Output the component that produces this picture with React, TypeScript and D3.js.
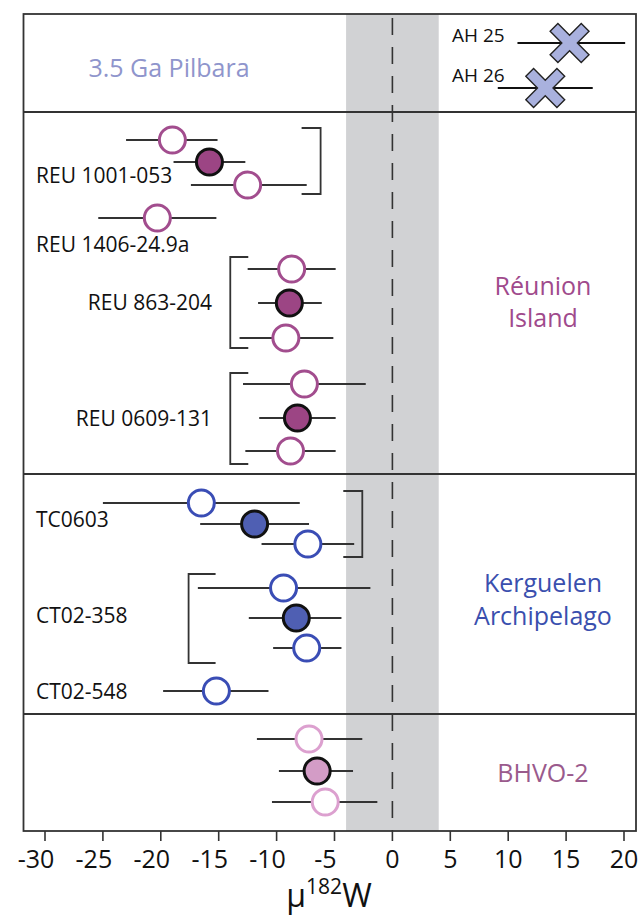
import React from 'react';
import * as d3 from 'd3';

// mu182W values (central value, lower and upper end of the error bar)
// row = vertical slot (1 slot = 10px from the top of the frame)
const pilbaraNames = ['AH 25', 'AH 26'];
const pilbaraMean = [15.3, 13.2];
const pilbaraLow = [10.8, 9.1];
const pilbaraHigh = [20.1, 17.3];
const pilbaraRow = [2.9, 7.4];

const reunionMean = [-19.0, -15.8, -12.5, -20.3, -8.7, -8.9, -9.2, -7.6, -8.2, -8.8];
const reunionLow = [-23.0, -18.9, -17.4, -25.4, -12.5, -11.6, -13.2, -12.9, -11.5, -12.7];
const reunionHigh = [-15.1, -12.7, -7.4, -15.2, -4.9, -6.1, -5.1, -2.3, -4.9, -4.9];
const reunionRow = [12.6, 14.8, 17.1, 20.4, 25.5, 28.9, 32.4, 37.0, 40.4, 43.7];
const reunionFilled = [false, true, false, false, false, true, false, false, true, false];

const kerguelenMean = [-16.5, -11.9, -7.3, -9.4, -8.3, -7.4, -15.2];
const kerguelenLow = [-25.0, -16.6, -11.3, -16.8, -12.4, -10.3, -19.8];
const kerguelenHigh = [-8.0, -7.2, -3.3, -1.9, -4.4, -4.4, -10.7];
const kerguelenRow = [48.9, 51.0, 53.0, 57.4, 60.4, 63.4, 67.7];
const kerguelenFilled = [false, true, false, false, true, false, false];

const bhvoMean = [-7.2, -6.5, -5.8];
const bhvoLow = [-11.7, -9.8, -10.4];
const bhvoHigh = [-2.6, -3.4, -1.3];
const bhvoRow = [72.5, 75.7, 78.8];
const bhvoFilled = [false, true, false];

// sample labels
const sampleNames = ['REU 1001-053', 'REU 1406-24.9a', 'REU 863-204', 'REU 0609-131', 'TC0603', 'CT02-358', 'CT02-548'];
const sampleRow = [16.9, 23.8, 29.6, 41.2, 51.3, 60.9, 68.5];
const sampleRightAligned = [false, false, true, true, false, false, false];

// brackets grouping replicate analyses
const bracketX = [-6.2, -14.0, -14.0, -2.6, -17.6];
const bracketTop = [11.4, 24.3, 35.9, 47.7, 56.0];
const bracketBottom = [18.0, 33.4, 45.0, 54.3, 64.9];
const bracketArm = [-19, 18, 18, -19, 27];

const panelDividers = [9.8, 46.0, 70.0];
const xTicks = [-30, -25, -20, -15, -10, -5, 0, 5, 10, 15, 20];
const bandHalfWidth = 4;

const FONT = '"Open Sans", sans-serif';
const LINE = '#333';

const width = 642;
const height = 917;
const frameLeft = 23.5;
const frameRight = 636;
const frameTop = 14;
const frameBottom = 831;

const x = d3.scaleLinear().domain([-30, 20]).range([45, 624]);
const y = d3.scaleLinear().domain([0, 81.7]).range([frameTop, frameBottom]);

const crossPath = (() => {
  const a = 22;
  const w = 5.5;
  const pts: [number, number][] = [
    [-w, -a], [w, -a], [w, -w], [a, -w], [a, w], [w, w],
    [w, a], [-w, a], [-w, w], [-a, w], [-a, -w], [-w, -w],
  ];
  const c = Math.SQRT1_2;
  const rot = pts.map(([px, py]) => [(px - py) * c, (px + py) * c]);
  return 'M' + rot.map((p) => p.join(',')).join('L') + 'Z';
})();

type SeriesProps = {
  mean: number[];
  low: number[];
  high: number[];
  row: number[];
  filled: boolean[];
  stroke: string;
  fill: string;
};

const Series = ({ mean, low, high, row, filled, stroke, fill }: SeriesProps) => (
  <g>
    {mean.map((m, i) => (
      <g key={i}>
        <line x1={x(low[i])} x2={x(high[i])} y1={y(row[i])} y2={y(row[i])} stroke={LINE} strokeWidth={1.8} />
        <circle
          cx={x(m)}
          cy={y(row[i])}
          r={13}
          fill={filled[i] ? fill : '#fff'}
          stroke={filled[i] ? '#111' : stroke}
          strokeWidth={3}
        />
      </g>
    ))}
  </g>
);

export default function App() {
  return (
    <svg
      width={width}
      height={height}
      style={{ position: 'absolute', left: 0, top: 0, background: '#fff' }}
      fontFamily={FONT}
    >
      {/* zero band and dashed zero line */}
      <rect
        x={x(-bandHalfWidth)}
        y={frameTop}
        width={x(bandHalfWidth) - x(-bandHalfWidth)}
        height={frameBottom - frameTop}
        fill="#d1d2d4"
      />
      <line x1={x(0)} x2={x(0)} y1={frameTop + 4} y2={frameBottom} stroke={LINE} strokeWidth={1.6} strokeDasharray="17,12" />

      {/* frame and panel dividers */}
      <rect x={frameLeft} y={frameTop} width={frameRight - frameLeft} height={frameBottom - frameTop} fill="none" stroke={LINE} strokeWidth={1.8} />
      {panelDividers.map((d) => (
        <line key={d} x1={frameLeft} x2={frameRight} y1={y(d)} y2={y(d)} stroke={LINE} strokeWidth={1.8} />
      ))}

      {/* panel titles */}
      <text x={169} y={77} textAnchor="middle" fontSize={25} fill="#8f95cc">3.5 Ga Pilbara</text>
      <text x={543} y={295} textAnchor="middle" fontSize={25} fill="#a04a8c">Réunion</text>
      <text x={543} y={327} textAnchor="middle" fontSize={25} fill="#a04a8c">Island</text>
      <text x={543} y={592} textAnchor="middle" fontSize={25} fill="#3a4fae">Kerguelen</text>
      <text x={543} y={625} textAnchor="middle" fontSize={25} fill="#3a4fae">Archipelago</text>
      <text x={543} y={782} textAnchor="middle" fontSize={25} fill="#9a5a8c">BHVO-2</text>

      {/* brackets */}
      {bracketX.map((bx, i) => (
        <path
          key={i}
          d={`M${x(bx) + bracketArm[i]},${y(bracketTop[i])}H${x(bx)}V${y(bracketBottom[i])}H${x(bx) + bracketArm[i]}`}
          fill="none"
          stroke={LINE}
          strokeWidth={1.8}
        />
      ))}

      {/* sample labels */}
      {sampleNames.map((n, i) => (
        <text
          key={n}
          x={sampleRightAligned[i] ? 212 : 36}
          y={y(sampleRow[i])}
          textAnchor={sampleRightAligned[i] ? 'end' : 'start'}
          fontSize={21}
          fill="#111"
        >
          {n}
        </text>
      ))}

      {/* Pilbara */}
      {pilbaraMean.map((m, i) => (
        <g key={i}>
          <text x={452} y={y(pilbaraRow[i]) - (i === 0 ? 1 : 6)} fontSize={19} fill="#111">{pilbaraNames[i]}</text>
          <line x1={x(pilbaraLow[i])} x2={x(pilbaraHigh[i])} y1={y(pilbaraRow[i])} y2={y(pilbaraRow[i])} stroke="#111" strokeWidth={1.8} />
          <path d={crossPath} transform={`translate(${x(m)},${y(pilbaraRow[i])})`} fill="#a9b1de" stroke="#222" strokeWidth={1.4} />
        </g>
      ))}

      <Series mean={reunionMean} low={reunionLow} high={reunionHigh} row={reunionRow} filled={reunionFilled} stroke="#a24d8e" fill="#9c4584" />
      <Series mean={kerguelenMean} low={kerguelenLow} high={kerguelenHigh} row={kerguelenRow} filled={kerguelenFilled} stroke="#3a4db5" fill="#4f5fb3" />
      <Series mean={bhvoMean} low={bhvoLow} high={bhvoHigh} row={bhvoRow} filled={bhvoFilled} stroke="#dca0cf" fill="#d39cc6" />

      {/* x axis */}
      {xTicks.map((t) => (
        <g key={t}>
          <line x1={x(t)} x2={x(t)} y1={frameBottom} y2={frameBottom + 10} stroke={LINE} strokeWidth={1.6} />
          <text x={x(t)} dx={t < 0 ? -9 : 0} y={868} textAnchor="middle" fontSize={25} fill="#111">
            {String(t)}
          </text>
        </g>
      ))}
      <text x={329} y={907} textAnchor="middle" fontSize={32} fill="#111">
        μ<tspan fontSize={21} dy={-13}>182</tspan>
        <tspan dy={13}>W</tspan>
      </text>
    </svg>
  );
}
